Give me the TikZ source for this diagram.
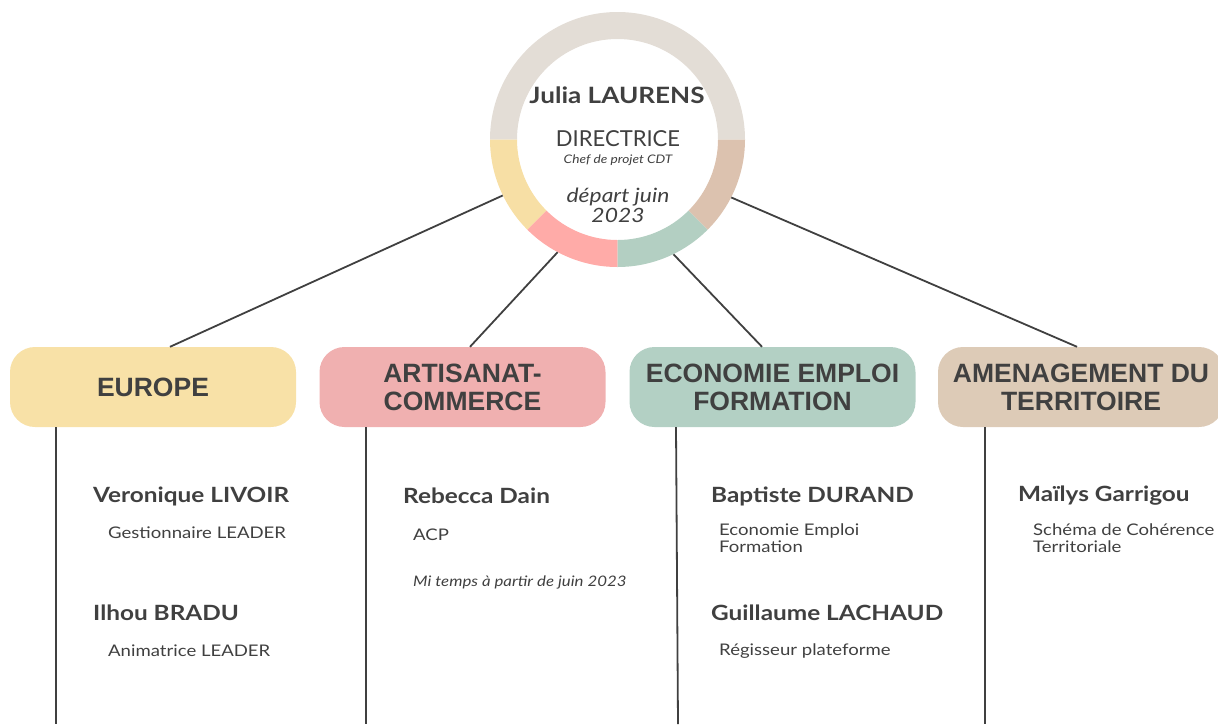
\documentclass[tikz,border=0pt]{standalone}
\usepackage{fontspec}
\setmainfont{Lato}
\newfontfamily\pfont[FakeStretch=1.16]{Lato}
\newfontfamily\boxfont{Liberation Sans}
\usetikzlibrary{calc}
\definecolor{txt}{HTML}{404040}
\definecolor{ringgray}{HTML}{E3DDD6}
\definecolor{ringyellow}{HTML}{F7DFA5}
\definecolor{ringpink}{HTML}{FFABA8}
\definecolor{ringgreen}{HTML}{B3CFC2}
\definecolor{ringtan}{HTML}{DCC2AF}
\definecolor{boxyellow}{HTML}{F8E1A7}
\definecolor{boxpink}{HTML}{F0B0B0}
\definecolor{boxgreen}{HTML}{B3D0C4}
\definecolor{boxtan}{HTML}{DDCBB7}
\tikzset{
  link/.style={draw=txt, line width=1.8pt},
  dept/.style={rounded corners=25pt, minimum width=286pt, minimum height=80pt, inner sep=0pt,
     align=center, text=txt, font=\boxfont\bfseries\fontsize{26.5}{28}\selectfont},
  person/.style={anchor=west, inner sep=0pt, text=txt, font=\pfont\bfseries\fontsize{21}{24}\selectfont},
  role/.style={anchor=west, inner sep=0pt, text=txt, align=left, font=\pfont\fontsize{16}{17.5}\selectfont},
  note/.style={anchor=west, inner sep=0pt, text=txt, font=\pfont\itshape\fontsize{14.5}{17}\selectfont},
}
\begin{document}
\begin{tikzpicture}[x=1pt,y=-1pt]
\useasboundingbox (0,0) rectangle (1218,724);
\coordinate (c) at (617.5,139.5);
% ring segments
\def\rout{127.5pt}
\def\rin{100.5pt}
\foreach \a/\b/\col in {0/180/ringgray,180/225/ringyellow,225/270/ringpink,270/315/ringgreen,315/360/ringtan}{
  \fill[\col] ($(c)+(\a:\rout)$) arc[start angle=\a,end angle=\b,radius=\rout]
     -- ($(c)+(\b:\rin)$) arc[start angle=\b,end angle=\a,radius=\rin] -- cycle;
}
\node[circle, minimum size=255pt, inner sep=0pt] (boss) at (c) {};
\node[inner sep=0pt, text=txt, font=\pfont\bfseries\fontsize{22.5}{26}\selectfont] (name) at (617,95) {Julia LAURENS};
\node[inner sep=0pt, text=txt, font=\fontsize{22}{24}\selectfont] (title) at (618,139) {DIRECTRICE};
\node[inner sep=0pt, text=txt, font=\pfont\itshape\fontsize{11.8}{13}\selectfont] (sub) at (618,160) {Chef de projet CDT};
\node[inner sep=0pt, text=txt, align=center, font=\pfont\itshape\fontsize{19.7}{20}\selectfont] (dep) at (618,205) {départ juin\\2023};

% departments
\node[dept, fill=boxyellow] (europe) at (153,387) {EUROPE};
\node[dept, fill=boxpink] (artisan) at (462.5,387) {ARTISANAT-\\COMMERCE};
\node[dept, fill=boxgreen] (eco) at (772.5,387) {ECONOMIE EMPLOI\\FORMATION};
\node[dept, fill=boxtan] (amen) at (1081,387) {AMENAGEMENT DU\\TERRITOIRE};

% connectors from the director
\draw[link] (boss.206.1) -- ($(europe.north)+(17,0)$);
\draw[link] (boss.242.9) -- ($(artisan.north)+(7.5,0)$);
\draw[link] (boss.296.9) -- ($(eco.north)+(-10.5,0)$);
\draw[link] (boss.333.3) -- ($(amen.north)+(-4,0)$);

% vertical lines
\coordinate (v1) at (56,724);
\coordinate (v2) at (366,724);
\coordinate (v3) at (678,724);
\coordinate (v4) at (985,724);
\draw[link] (europe.south -| v1) -- (v1);
\draw[link] (artisan.south -| v2) -- (v2);
\draw[link] ($(eco.south -| v3)+(-2,0)$) -- (v3);
\draw[link] (amen.south -| v4) -- (v4);

% people
\node[person] (p1) at (93,496) {Veronique LIVOIR};
\node[role] (r1) at (108,533) {Gestionnaire LEADER};
\node[person] (p2) at (93,613) {Ilhou BRADU};
\node[role] (r2) at (108,651) {Animatrice LEADER};

\node[person] (p3) at (403,496) {Rebecca Dain};
\node[role] (r3) at (413,535) {ACP};
\node[note] (n3) at (413,582) {Mi temps à partir de juin 2023};

\node[person] (p4) at (711,496) {Baptiste DURAND};
\node[role] (r4) at (719,538) {Economie Emploi\\Formation};
\node[person] (p5) at (711,613) {Guillaume LACHAUD};
\node[role] (r5) at (719,651) {Régisseur plateforme};

\node[person] (p6) at (1018,496) {Maïlys Garrigou};
\node[role] (r6) at (1033,538) {Schéma de Cohérence\\Territoriale};
\end{tikzpicture}
\end{document}
